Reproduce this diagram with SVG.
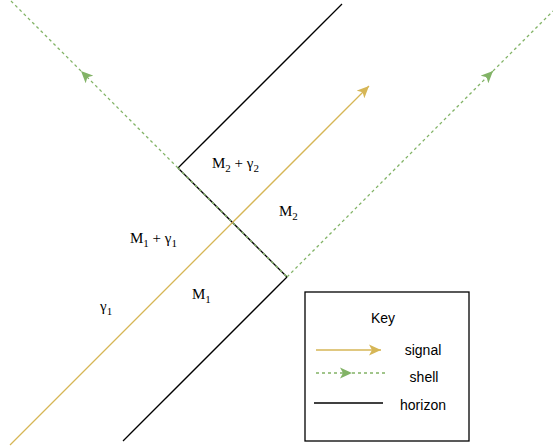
<svg xmlns="http://www.w3.org/2000/svg" width="553" height="448" viewBox="0 0 553 448">
<style>
.serif{font-family:"Liberation Serif","Times New Roman",serif;font-size:15px;fill:#000}
.sub{font-size:11px}
.sans{font-family:"Liberation Sans",Arial,sans-serif;font-size:14px;fill:#000}
.signal{stroke:#d6b656;stroke-width:1.3;fill:none}
.shell{stroke:#82b366;stroke-width:1.3;fill:none;stroke-dasharray:3 3}
.horizon{stroke:#000;stroke-width:1.3;fill:none}
</style>
<defs>
<marker id="ay" viewBox="0 0 10 10" refX="10" refY="5" markerWidth="12" markerHeight="12" markerUnits="userSpaceOnUse" orient="auto"><path d="M0,0.5 L10,5 L0,9.5 L2.5,5 Z" fill="#d6b656"/></marker>
<marker id="ag" viewBox="0 0 10 10" refX="10" refY="5" markerWidth="12" markerHeight="12" markerUnits="userSpaceOnUse" orient="auto"><path d="M0,0.5 L10,5 L0,9.5 L2.5,5 Z" fill="#82b366"/></marker>
</defs>
<g id="connectors">
<path id="horizon-upper" class="horizon" d="M342,4 L178,168"/>
<path id="horizon-middle" class="horizon" d="M178,168 L287,277"/>
<path id="horizon-lower" class="horizon" d="M287,277 L123,441"/>
<path id="shell-left" class="shell" d="M178,168 L81,71" marker-end="url(#ag)"/>
<path id="shell-left-tail" class="shell" d="M81,71 L10,0"/>
<path id="shell-middle" class="shell" d="M178,168 L287,277"/>
<path id="shell-right" class="shell" d="M287,277 L493,71" marker-end="url(#ag)"/>
<path id="shell-right-tail" class="shell" d="M493,71 L553,11"/>
<path id="signal" class="signal" d="M10,445 L369,86" marker-end="url(#ay)"/>
</g>
<g id="label-m2g2"><text class="serif" x="212" y="168">M<tspan class="sub" dy="4">2</tspan><tspan dy="-4"> + γ</tspan><tspan class="sub" dy="4">2</tspan></text></g>
<g id="label-m2"><text class="serif" x="279" y="216">M<tspan class="sub" dy="4">2</tspan></text></g>
<g id="label-m1g1"><text class="serif" x="130" y="243">M<tspan class="sub" dy="4">1</tspan><tspan dy="-4"> + γ</tspan><tspan class="sub" dy="4">1</tspan></text></g>
<g id="label-m1"><text class="serif" x="192" y="299">M<tspan class="sub" dy="4">1</tspan></text></g>
<g id="label-g1"><text class="serif" x="100" y="311">γ<tspan class="sub" dy="4">1</tspan></text></g>
<g id="key">
<rect x="305" y="292" width="164" height="149" fill="#fff" stroke="#000" stroke-width="1.3"/>
<text class="sans" x="383" y="323" text-anchor="middle">Key</text>
<path class="signal" d="M316,350 L381,350" marker-end="url(#ay)"/>
<text class="sans" x="423" y="355" text-anchor="middle">signal</text>
<path class="shell" d="M316,373 L352,373" marker-end="url(#ag)"/>
<path class="shell" d="M352,373 L385,373"/>
<text class="sans" x="424" y="382" text-anchor="middle">shell</text>
<path class="horizon" d="M314,403 L383,403"/>
<text class="sans" x="423" y="410" text-anchor="middle">horizon</text>
</g>
</svg>
